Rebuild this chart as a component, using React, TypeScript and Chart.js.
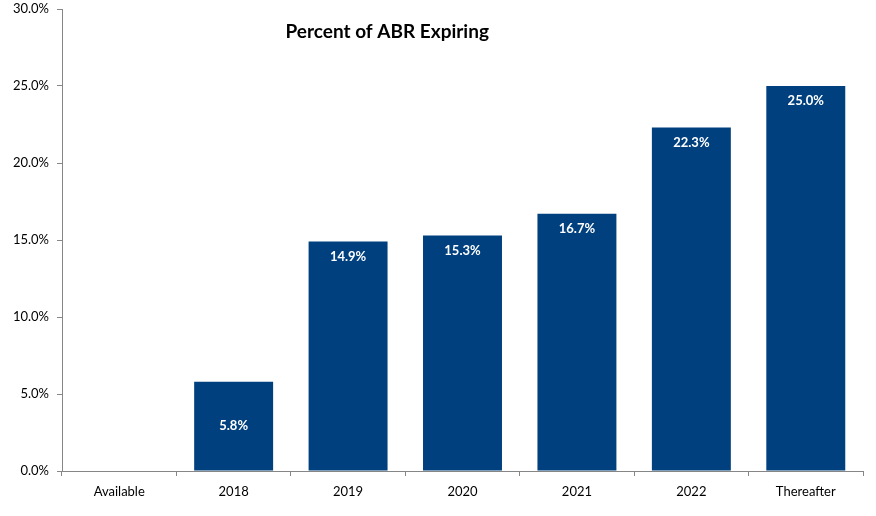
import React, { useEffect, useRef } from "react";
import { Chart, registerables } from "chart.js";

Chart.register(...registerables);

const categories = ["Available", "2018", "2019", "2020", "2021", "2022", "Thereafter"];
const percentExpiring = [0, 5.8, 14.9, 15.3, 16.7, 22.3, 25.0];
const yTicks = [0, 5, 10, 15, 20, 25, 30];
const chartTitle = "Percent of ABR Expiring";

const FONT = "Lato, 'Open Sans', sans-serif";
const BAR = "#00407E";
const AXIS = "#868686";

const labelsPlugin = {
  id: "barLabels",
  afterDatasetsDraw(chart: any) {
    const ctx = chart.ctx;
    const meta = chart.getDatasetMeta(0);
    ctx.save();
    ctx.fillStyle = "#ffffff";
    ctx.font = `bold 13px ${FONT}`;
    ctx.textAlign = "center";
    ctx.textBaseline = "middle";
    meta.data.forEach((bar: any, i: number) => {
      const v = percentExpiring[i];
      if (!v) return;
      const y = v < 10 ? (bar.y + bar.base) / 2 : bar.y + 15;
      ctx.fillText(v.toFixed(1) + "%", bar.x, y);
    });
    ctx.restore();
  },
};

const titlePlugin = {
  id: "inlineTitle",
  afterDraw(chart: any) {
    const { ctx, chartArea } = chart;
    ctx.save();
    ctx.fillStyle = "#000000";
    ctx.font = `bold 19px ${FONT}`;
    ctx.textAlign = "center";
    ctx.textBaseline = "middle";
    ctx.fillText(chartTitle, chartArea.left + (chartArea.right - chartArea.left) * 0.406, 32);
    ctx.restore();
  },
};

export default function App() {
  const ref = useRef<HTMLCanvasElement>(null);
  useEffect(() => {
    if (!ref.current) return;
    const chart = new Chart(ref.current, {
      type: "bar",
      data: {
        labels: categories,
        datasets: [
          {
            data: percentExpiring,
            backgroundColor: BAR,
            categoryPercentage: 1,
            barPercentage: 0.69,
          },
        ],
      },
      options: {
        animation: false,
        responsive: false,
        maintainAspectRatio: false,
        layout: { padding: { top: 9, right: 13, bottom: 0, left: 0 } },
        plugins: { legend: { display: false }, tooltip: { enabled: false }, title: { display: false } },
        scales: {
          x: {
            grid: { drawOnChartArea: false, drawTicks: true, tickLength: 5, color: AXIS, offset: true },
            border: { display: true, color: AXIS, width: 1 },
            ticks: { color: "#000", font: { family: FONT, size: 13 }, padding: 8, maxRotation: 0 },
            afterFit: (s: any) => {
              s.height = 45;
              s.paddingLeft = 0;
              s.paddingRight = 0;
            },
          },
          y: {
            min: 0,
            max: 30,
            afterBuildTicks: (s: any) => {
              s.ticks = yTicks.map((v) => ({ value: v }));
            },
            grid: { drawOnChartArea: false, drawTicks: true, tickLength: 5, color: AXIS },
            border: { display: true, color: AXIS, width: 1 },
            ticks: {
              color: "#000",
              font: { family: FONT, size: 13 },
              padding: 8,
              callback: (v: any) => Number(v).toFixed(1) + "%",
            },
            afterFit: (s: any) => {
              s.width = 62;
              s.paddingTop = 0;
              s.paddingBottom = 0;
            },
          },
        },
      },
      plugins: [labelsPlugin, titlePlugin],
    });
    return () => chart.destroy();
  }, []);
  return (
    <div style={{ position: "absolute", left: 0, top: 0, width: 876, height: 516, background: "#fff" }}>
      <canvas ref={ref} width={876} height={516} style={{ width: 876, height: 516, display: "block" }} />
    </div>
  );
}
